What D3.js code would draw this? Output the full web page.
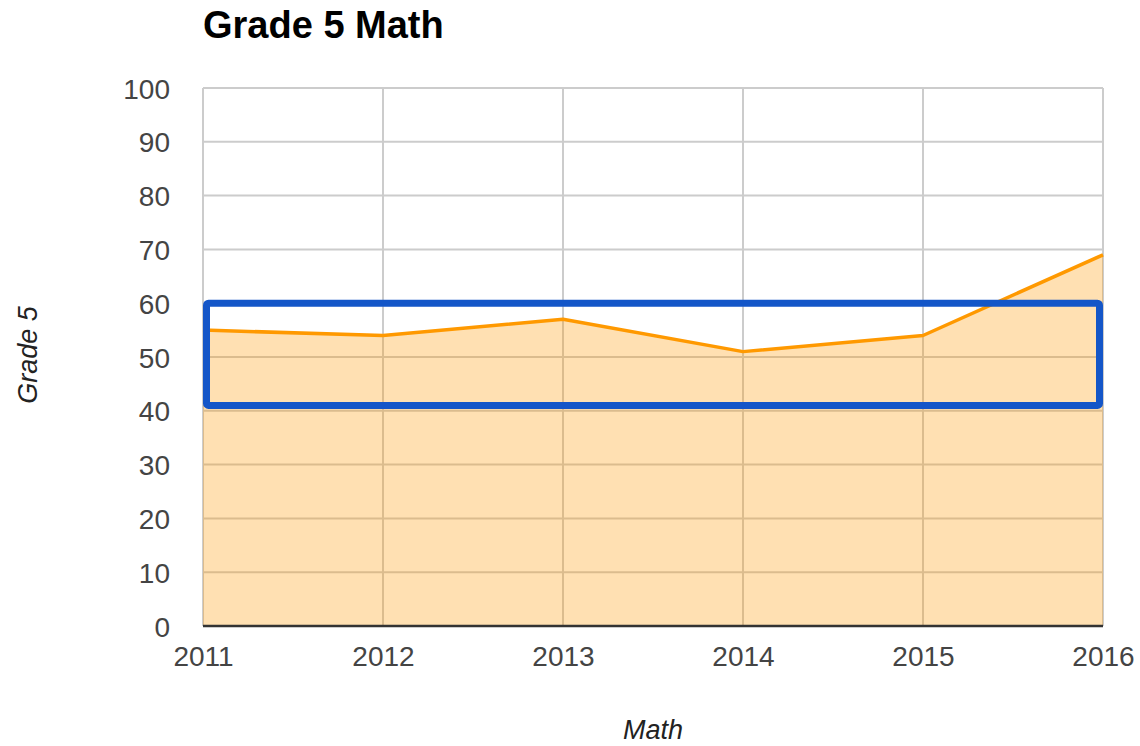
<!DOCTYPE html>
<html>
<head>
<meta charset="utf-8">
<script src="https://cdn.jsdelivr.net/npm/d3@7"></script>
<style>
  body { margin: 0; background: #fff; }
  text { font-family: "Liberation Sans", Arial, sans-serif; }
</style>
</head>
<body>
<svg id="chart" width="1140" height="746"></svg>
<script>
var years = [2011, 2012, 2013, 2014, 2015, 2016];
var scores = [55, 54, 57, 51, 54, 69];
var yTicks = [0, 10, 20, 30, 40, 50, 60, 70, 80, 90, 100];
// highlighted band (value range)
var band = [41, 60];

var svg = d3.select("#chart"),
    margin = {top: 88, right: 37, bottom: 120, left: 203},
    width = 1140 - margin.left - margin.right,
    height = 746 - margin.top - margin.bottom,
    g = svg.append("g").attr("transform", "translate(" + margin.left + "," + margin.top + ")");

var x = d3.scaleLinear()
    .domain([years[0], years[years.length - 1]])
    .range([0, width]);

var y = d3.scaleLinear()
    .domain([0, 100])
    .range([height, 0]);

var data = years.map(function(d, i) { return {year: d, value: scores[i]}; });

// grid
g.append("g")
  .selectAll("line")
  .data(yTicks)
  .enter().append("line")
    .attr("x1", 0)
    .attr("x2", width)
    .attr("y1", function(d) { return y(d); })
    .attr("y2", function(d) { return y(d); })
    .attr("stroke", "#cccccc")
    .attr("stroke-width", 2);

g.append("g")
  .selectAll("line")
  .data(years)
  .enter().append("line")
    .attr("x1", function(d) { return x(d); })
    .attr("x2", function(d) { return x(d); })
    .attr("y1", 0)
    .attr("y2", height)
    .attr("stroke", "#cccccc")
    .attr("stroke-width", 2);

// area + line
var area = d3.area()
    .x(function(d) { return x(d.year); })
    .y0(height)
    .y1(function(d) { return y(d.value); });

var line = d3.line()
    .x(function(d) { return x(d.year); })
    .y(function(d) { return y(d.value); });

g.append("path")
    .datum(data)
    .attr("d", area)
    .attr("fill", "#ff9900")
    .attr("fill-opacity", 0.3);

g.append("path")
    .datum(data)
    .attr("d", line)
    .attr("fill", "none")
    .attr("stroke", "#ff9900")
    .attr("stroke-width", 3.5)
    .attr("stroke-linejoin", "round");

// baseline
g.append("line")
    .attr("x1", 0)
    .attr("x2", width)
    .attr("y1", height)
    .attr("y2", height)
    .attr("stroke", "#333333")
    .attr("stroke-width", 2.5);

// axes labels
var yAxis = g.append("g")
    .call(d3.axisLeft(y).tickValues(yTicks).tickSize(0).tickPadding(33));
yAxis.select(".domain").remove();
yAxis.selectAll("text")
    .attr("fill", "#444444")
    .style("font-size", "28px")
    .attr("dy", "0.36em");

var xAxis = g.append("g")
    .attr("transform", "translate(0," + height + ")")
    .call(d3.axisBottom(x).tickValues(years).tickFormat(d3.format("d")).tickSize(0).tickPadding(20));
xAxis.select(".domain").remove();
xAxis.selectAll("text")
    .attr("fill", "#444444")
    .style("font-size", "28px");

// highlight box
g.append("rect")
    .attr("x", 3.5)
    .attr("y", y(band[1]))
    .attr("width", width - 7)
    .attr("height", y(band[0]) - y(band[1]))
    .attr("rx", 2)
    .attr("fill", "none")
    .attr("stroke", "#1456c8")
    .attr("stroke-width", 7);

// titles
svg.append("text")
    .attr("x", 203)
    .attr("y", 38)
    .attr("font-weight", "bold")
    .style("font-size", "38px")
    .attr("fill", "#000")
    .text("Grade 5 Math");

svg.append("text")
    .attr("transform", "translate(37,355) rotate(-90)")
    .attr("text-anchor", "middle")
    .attr("font-style", "italic")
    .style("font-size", "27px")
    .attr("fill", "#222")
    .text("Grade 5");

svg.append("text")
    .attr("x", 653)
    .attr("y", 739)
    .attr("text-anchor", "middle")
    .attr("font-style", "italic")
    .style("font-size", "27px")
    .attr("fill", "#222")
    .text("Math");
</script>
</body>
</html>
